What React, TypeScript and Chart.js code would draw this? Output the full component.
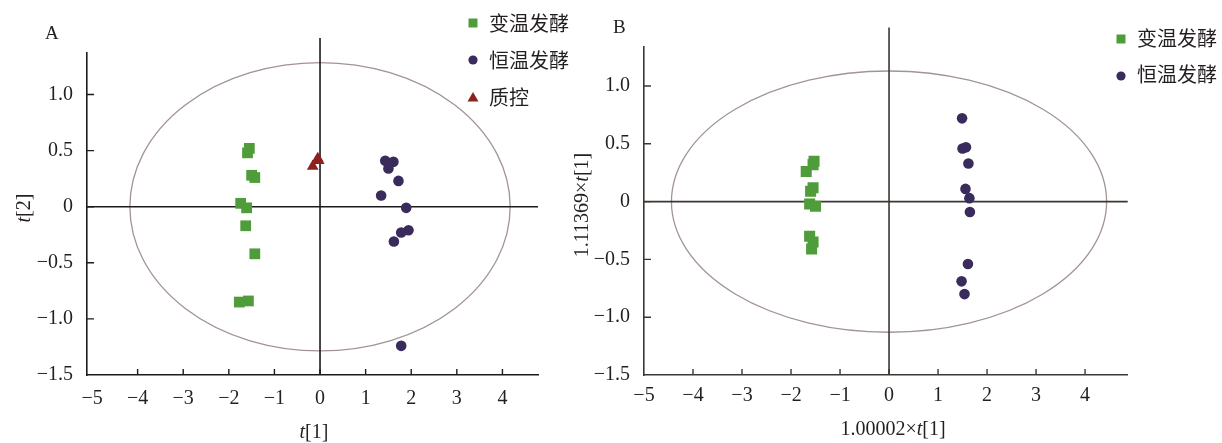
import React, { useEffect, useRef } from "react";
import { Chart, registerables } from "chart.js";

Chart.register(...registerables);

// ---------------- data ----------------
const seriesNames = ["变温发酵", "恒温发酵", "质控"];

// Panel A (t[1], t[2])
const aVarX = [-1.55, -1.59, -1.5, -1.43, -1.74, -1.61, -1.63, -1.43, -1.77, -1.57];
const aVarY = [0.52, 0.48, 0.28, 0.26, 0.03, -0.01, -0.17, -0.42, -0.85, -0.84];
const aConstX = [1.43, 1.61, 1.5, 1.72, 1.34, 1.89, 1.94, 1.78, 1.62, 1.78];
const aConstY = [0.41, 0.4, 0.34, 0.23, 0.1, -0.01, -0.21, -0.23, -0.31, -1.24];
const aQcX = [-0.05, -0.03, -0.16];
const aQcY = [0.43, 0.41, 0.36];

// Panel B (1.00002×t[1], 1.11369×t[1])
const bVarX = [-1.53, -1.55, -1.69, -1.55, -1.6, -1.62, -1.5, -1.62, -1.55, -1.58];
const bVarY = [0.35, 0.32, 0.26, 0.12, 0.09, -0.02, -0.04, -0.3, -0.35, -0.41];
const bConstX = [1.49, 1.5, 1.57, 1.62, 1.56, 1.64, 1.65, 1.61, 1.48, 1.54];
const bConstY = [0.72, 0.46, 0.47, 0.33, 0.11, 0.03, -0.09, -0.54, -0.69, -0.8];

const xTickValues = [-5, -4, -3, -2, -1, 0, 1, 2, 3, 4];
const xTickLabels = ["−5", "−4", "−3", "−2", "−1", "0", "1", "2", "3", "4"];
const yTickValues = [-1.5, -1, -0.5, 0, 0.5, 1];
const yTickLabels = ["−1.5", "−1.0", "−0.5", "0", "0.5", "1.0"];

// ellipse: [centerX, centerY, radiusX, radiusY]
const ellipseA = [0, 0, 4.17, 1.285];
const ellipseB = [0, 0, 4.44, 1.13];

// ---------------- styles ----------------
const TEXT = "#231f20";
const GREEN = "#4f9c3a";
const PURPLE = "#392b5c";
const RED = "#8c221d";
const SERIF = '"Liberation Serif", "Times New Roman", serif';
const CJK = '"Noto Sans CJK SC", "Noto Sans", sans-serif';

type Seg = [string, boolean];

const pts = (xs: number[], ys: number[]) => xs.map((x, i) => ({ x, y: ys[i] }));

function drawSegs(ctx: CanvasRenderingContext2D, segs: Seg[], cx: number, cy: number, size: number, rotate: boolean) {
  ctx.save();
  ctx.translate(cx, cy);
  if (rotate) ctx.rotate(-Math.PI / 2);
  const fonts = segs.map(([, it]) => `${it ? "italic " : ""}${size}px ${SERIF}`);
  let total = 0;
  const widths = segs.map(([t], i) => {
    ctx.font = fonts[i];
    const w = ctx.measureText(t).width;
    total += w;
    return w;
  });
  let x = -total / 2;
  ctx.textBaseline = "middle";
  ctx.textAlign = "left";
  ctx.fillStyle = TEXT;
  segs.forEach(([t], i) => {
    ctx.font = fonts[i];
    ctx.fillText(t, x, 0);
    x += widths[i];
  });
  ctx.restore();
}

const decorPlugin = {
  id: "decor",
  beforeDatasetsDraw(chart: any, _args: any, o: any) {
    const ctx: CanvasRenderingContext2D = chart.ctx;
    const xs = chart.scales.x;
    const ys = chart.scales.y;
    const ca = chart.chartArea;
    ctx.save();
    // ellipse
    const [ecx, ecy, erx, ery] = o.ellipse;
    const px = xs.getPixelForValue(ecx);
    const py = ys.getPixelForValue(ecy);
    const rx = Math.abs(xs.getPixelForValue(ecx + erx) - px);
    const ry = Math.abs(ys.getPixelForValue(ecy + ery) - py);
    ctx.beginPath();
    ctx.ellipse(px, py, rx, ry, 0, 0, Math.PI * 2);
    ctx.strokeStyle = o.ellipseColor;
    ctx.lineWidth = 1.3;
    ctx.stroke();
    // zero lines
    ctx.strokeStyle = o.axisColor;
    ctx.lineWidth = 1.6;
    const y0 = ys.getPixelForValue(0);
    const x0 = xs.getPixelForValue(0);
    ctx.beginPath();
    ctx.moveTo(ca.left, y0);
    ctx.lineTo(ca.right, y0);
    ctx.moveTo(x0, o.zeroTop);
    ctx.lineTo(x0, ca.bottom);
    ctx.stroke();
    // inward tick marks
    ctx.lineWidth = 1.4;
    ctx.beginPath();
    xs.ticks.forEach((t: any) => {
      const p = xs.getPixelForValue(t.value);
      if (p - ca.left < 6) return;
      ctx.moveTo(p, ca.bottom);
      ctx.lineTo(p, ca.bottom - 6);
    });
    ys.ticks.forEach((t: any) => {
      const p = ys.getPixelForValue(t.value);
      if (ca.bottom - p < 6) return;
      ctx.moveTo(ca.left, p);
      ctx.lineTo(ca.left + 7, p);
    });
    ctx.stroke();
    ctx.restore();
  },
  afterDraw(chart: any, _args: any, o: any) {
    const ctx: CanvasRenderingContext2D = chart.ctx;
    ctx.save();
    // panel letter
    ctx.font = `19px ${SERIF}`;
    ctx.fillStyle = TEXT;
    ctx.textAlign = "left";
    ctx.textBaseline = "alphabetic";
    ctx.fillText(o.letter, o.letterX, o.letterY);
    // axis titles
    drawSegs(ctx, o.xTitle, o.xTitleX, o.xTitleY, 20, false);
    drawSegs(ctx, o.yTitle, o.yTitleX, o.yTitleY, 20, true);
    // legend
    chart.data.datasets.forEach((ds: any, i: number) => {
      const cy = o.legendY[i];
      const mx = o.legendX;
      ctx.fillStyle = ds.backgroundColor;
      ctx.beginPath();
      if (ds.pointStyle === "rect") {
        ctx.rect(mx - 4.5, cy - 4.5, 9, 9);
      } else if (ds.pointStyle === "circle") {
        ctx.arc(mx, cy, 4.6, 0, Math.PI * 2);
      } else {
        ctx.moveTo(mx, cy - 5);
        ctx.lineTo(mx + 5.5, cy + 4.5);
        ctx.lineTo(mx - 5.5, cy + 4.5);
        ctx.closePath();
      }
      ctx.fill();
      ctx.fillStyle = TEXT;
      ctx.font = `20px ${CJK}`;
      ctx.textBaseline = "middle";
      ctx.fillText(ds.label, o.legendTextX, o.legendTextY[i]);
    });
    ctx.restore();
  },
};

function makeScale(axis: "x" | "y", min: number, max: number, color: string, size: number, padding: number) {
  const values = axis === "x" ? xTickValues : yTickValues;
  const labels = axis === "x" ? xTickLabels : yTickLabels;
  return {
    type: "linear",
    min,
    max,
    afterBuildTicks: (scale: any) => {
      scale.ticks = values.map((v) => ({ value: v }));
    },
    afterFit: (scale: any) => {
      if (axis === "x") scale.height = size;
      else scale.width = size;
    },
    grid: { display: false, drawTicks: false, drawOnChartArea: false },
    border: { display: true, color, width: 1.6 },
    ticks: {
      autoSkip: false,
      maxRotation: 0,
      padding,
      color: TEXT,
      font: { family: SERIF, size: 20 },
      callback: (v: number) => {
        const i = values.findIndex((t) => Math.abs(t - v) < 1e-9);
        return i >= 0 ? labels[i] : "";
      },
    },
  };
}

function ChartPanel(props: { width: number; left: number; build: () => any }) {
  const ref = useRef<HTMLCanvasElement | null>(null);
  useEffect(() => {
    if (!ref.current) return;
    const chart = new Chart(ref.current, props.build());
    return () => chart.destroy();
  }, []);
  return (
    <canvas
      ref={ref}
      width={props.width}
      height={443}
      style={{ position: "absolute", left: props.left, top: 0, width: props.width, height: 443 }}
    />
  );
}

function buildA() {
  return {
    type: "scatter",
    data: {
      datasets: [
        { label: seriesNames[0], data: pts(aVarX, aVarY), pointStyle: "rect", pointRadius: 7.6, backgroundColor: GREEN, borderWidth: 0 },
        { label: seriesNames[1], data: pts(aConstX, aConstY), pointStyle: "circle", pointRadius: 5.3, backgroundColor: PURPLE, borderWidth: 0 },
        { label: seriesNames[2], data: pts(aQcX, aQcY), pointStyle: "triangle", pointRadius: 6.8, backgroundColor: RED, borderWidth: 0 },
      ],
    },
    options: {
      responsive: false,
      animation: false,
      layout: { padding: { left: 0, top: 53, right: 62, bottom: 0 } },
      scales: {
        x: makeScale("x", -5.11, 4.78, "#1c1c1c", 68, 12),
        y: makeScale("y", -1.5, 1.37, "#1c1c1c", 87, 14),
      },
      plugins: {
        legend: { display: false },
        tooltip: { enabled: false },
        decor: {
          letter: "A",
          letterX: 45,
          letterY: 39,
          xTitle: [["t", true], ["[1]", false]],
          xTitleX: 314,
          xTitleY: 433,
          yTitle: [["t", true], ["[2]", false]],
          yTitleX: 25,
          yTitleY: 208,
          zeroTop: 38,
          ellipse: ellipseA,
          axisColor: "#1c1c1c",
          ellipseColor: "#a39392",
          legendX: 473,
          legendTextX: 489,
          legendY: [23, 60, 97],
          legendTextY: [23, 60, 97],
        },
      },
    },
    plugins: [decorPlugin],
  };
}

function buildB() {
  return {
    type: "scatter",
    data: {
      datasets: [
        { label: seriesNames[0], data: pts(bVarX, bVarY), pointStyle: "rect", pointRadius: 7.8, backgroundColor: GREEN, borderWidth: 0 },
        { label: seriesNames[1], data: pts(bConstX, bConstY), pointStyle: "circle", pointRadius: 5.3, backgroundColor: PURPLE, borderWidth: 0 },
      ],
    },
    options: {
      responsive: false,
      animation: false,
      layout: { padding: { left: 0, top: 46.7, right: 94.3, bottom: 0 } },
      scales: {
        x: makeScale("x", -5, 4.87, "#3d3733", 68, 9),
        y: makeScale("y", -1.5, 1.34, "#3d3733", 104, 14),
      },
      plugins: {
        legend: { display: false },
        tooltip: { enabled: false },
        decor: {
          letter: "B",
          letterX: 73,
          letterY: 33,
          xTitle: [["1.00002×", false], ["t", true], ["[1]", false]],
          xTitleX: 353,
          xTitleY: 430,
          yTitle: [["1.11369×", false], ["t", true], ["[1]", false]],
          yTitleX: 43,
          yTitleY: 205,
          zeroTop: 27.5,
          ellipse: ellipseB,
          axisColor: "#3d3733",
          ellipseColor: "#a39494",
          legendX: 581,
          legendTextX: 597,
          legendY: [39, 76],
          legendTextY: [38, 74],
        },
      },
    },
    plugins: [decorPlugin],
  };
}

export default function App() {
  return (
    <div style={{ position: "absolute", left: 0, top: 0, width: 1222, height: 443, background: "#ffffff" }}>
      <ChartPanel width={600} left={0} build={buildA} />
      <ChartPanel width={682} left={540} build={buildB} />
    </div>
  );
}
